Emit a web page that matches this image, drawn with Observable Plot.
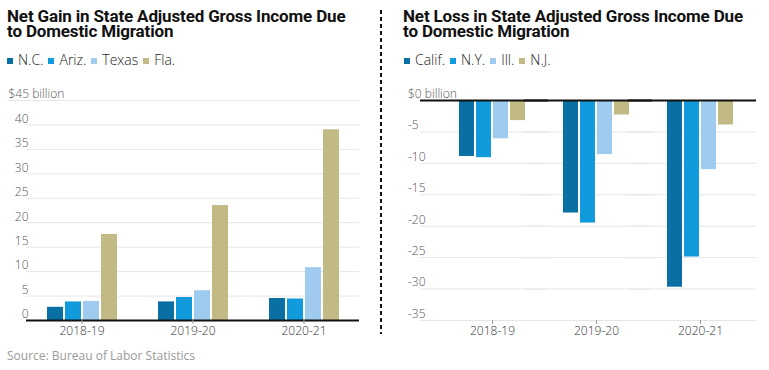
<!DOCTYPE html>
<html>
<head>
<meta charset="utf-8">
<script src="https://cdn.jsdelivr.net/npm/d3@7"></script>
<script src="https://cdn.jsdelivr.net/npm/@observablehq/plot@0.6"></script>
<style>
  html, body { margin: 0; padding: 0; background: #fff; }
  #wrap { position: relative; width: 769px; height: 370px; overflow: hidden; font-family: "Open Sans", sans-serif; }
  .title { position: absolute; font-family: Roboto, sans-serif; font-weight: 700; font-size: 17px; line-height: 15px; color: #111; letter-spacing: -0.15px; white-space: nowrap; }
  .legend { position: absolute; font-size: 14px; font-weight: 300; color: #222; white-space: nowrap; }
  .legend span.item { margin-right: 5px; }
  .legend i { display: inline-block; width: 6px; height: 6px; margin-right: 5px; vertical-align: 1px; }
  .chart { position: absolute; }
  #sep { position: absolute; left: 380px; top: 10px; width: 2px; height: 324px; background: repeating-linear-gradient(to bottom, #111 0 4px, transparent 4px 7px); }
  #source { position: absolute; left: 7px; top: 347px; font-size: 12px; color: #999; white-space: nowrap; }
</style>
</head>
<body>
<div id="wrap">
  <div class="title" style="left:7px; top:9px;">Net Gain in State Adjusted Gross Income Due<br>to Domestic Migration</div>
  <div class="legend" id="legL" style="left:7px; top:50px;"></div>
  <div class="chart" id="chartL" style="left:0px; top:80px;"></div>
  <div id="sep"></div>
  <div class="title" style="left:403px; top:9px;">Net Loss in State Adjusted Gross Income Due<br>to Domestic Migration</div>
  <div class="legend" id="legR" style="left:404px; top:50px;"></div>
  <div class="chart" id="chartR" style="left:385px; top:80px;"></div>
  <div id="source">Source: Bureau of Labor Statistics</div>
</div>
<script>
// ---- data ----
const years = ["2018-19", "2019-20", "2020-21"];

const gainStates = ["N.C.", "Ariz.", "Texas", "Fla."];
const gainNC    = [2.7, 3.8, 4.5];
const gainAriz  = [3.8, 4.7, 4.4];
const gainTexas = [3.9, 6.1, 10.8];
const gainFla   = [17.6, 23.5, 39.0];
const gainTicks = [0, 5, 10, 15, 20, 25, 30, 35, 40, 45];

const lossStates = ["Calif.", "N.Y.", "Ill.", "N.J."];
const lossCalif = [-8.9, -17.9, -29.7];
const lossNY    = [-9.1, -19.5, -24.9];
const lossIll   = [-6.1, -8.6, -11.0];
const lossNJ    = [-3.2, -2.3, -3.9];
const lossTicks = [0, -5, -10, -15, -20, -25, -30, -35];

const palette = ["#0a6fa2", "#129bdc", "#9fcbee", "#c1ba84"];

function rows(states, series) {
  const out = [];
  years.forEach((y, i) => states.forEach((s, j) => out.push({year: y, state: s, value: series[j][i]})));
  return out;
}
const gainRows = rows(gainStates, [gainNC, gainAriz, gainTexas, gainFla]);
const lossRows = rows(lossStates, [lossCalif, lossNY, lossIll, lossNJ]);

function legend(el, states) {
  el.innerHTML = states.map((s, i) => `<span class="item"><i style="background:${palette[i]}"></i>${s}</span>`).join("");
}
legend(document.getElementById("legL"), gainStates);
legend(document.getElementById("legR"), lossStates);

const gridColor = "#e6e6e6";
const labelColor = "#555";
const firstYear = () => years[0];

// ---- left chart ----
const left = Plot.plot({
  width: 378, height: 265,
  marginLeft: 25, marginRight: 19, marginTop: 20, marginBottom: 25,
  style: {fontFamily: "Open Sans, sans-serif", background: "transparent"},
  fx: {domain: years, paddingInner: 0, paddingOuter: 0, label: null},
  x: {domain: gainStates, paddingInner: 0.127, paddingOuter: 1.1, axis: null},
  y: {domain: [0, 45], axis: null},
  color: {domain: gainStates, range: palette},
  marks: [
    Plot.ruleY(gainTicks.filter(d => d > 0 && d < 45), {stroke: gridColor}),
    Plot.ruleY([45], {stroke: gridColor, insetLeft: -18}),
    Plot.barY(gainRows, {fx: "year", x: "state", y: "value", fill: "state"}),
    Plot.ruleY([0], {stroke: "#111", strokeWidth: 2}),
    Plot.text(gainTicks.filter(d => d < 45), {fx: firstYear, y: d => d, text: d => String(d), frameAnchor: "left", textAnchor: "end", dx: 2, dy: -6, fill: labelColor, fontSize: 12, fontWeight: 300}),
    Plot.text([45], {fx: firstYear, y: d => d, text: d => `$${d} billion`, frameAnchor: "left", textAnchor: "start", dx: -18, dy: -6, fill: labelColor, fontSize: 12, fontWeight: 300}),
    Plot.axisFx({anchor: "bottom", tickSize: 4, tickPadding: 2, fontSize: 12, fontWeight: 300, label: null, stroke: "#999", fill: "#333"})
  ]
});
document.getElementById("chartL").append(left);

// ---- right chart ----
const right = Plot.plot({
  width: 384, height: 265,
  marginLeft: 33, marginRight: 13, marginTop: 20, marginBottom: 25,
  style: {fontFamily: "Open Sans, sans-serif", background: "transparent"},
  fx: {domain: years, paddingInner: 0, paddingOuter: 0.11, align: 0.85, label: null},
  x: {domain: lossStates, paddingInner: 0.111, paddingOuter: 0.97, axis: null},
  y: {domain: [-35, 0], axis: null},
  color: {domain: lossStates, range: palette},
  marks: [
    Plot.ruleY(lossTicks.filter(d => d < 0), {stroke: gridColor, insetLeft: -20, insetRight: -4}),
    Plot.barY(lossRows, {fx: "year", x: "state", y: "value", fill: "state"}),
    Plot.ruleY([0], {stroke: "#111", strokeWidth: 2, insetLeft: -20, insetRight: -4}),
    Plot.text(lossTicks, {fx: firstYear, y: d => d, text: d => d === 0 ? "$0 billion" : String(d), frameAnchor: "left", textAnchor: "start", dx: -32.5, dy: -6.5, fill: labelColor, fontSize: 12, fontWeight: 300}),
    Plot.axisFx({anchor: "bottom", tickSize: 4, tickPadding: 2, fontSize: 12, fontWeight: 300, label: null, stroke: "#999", fill: "#333"})
  ]
});
document.getElementById("chartR").append(right);
</script>
</body>
</html>
